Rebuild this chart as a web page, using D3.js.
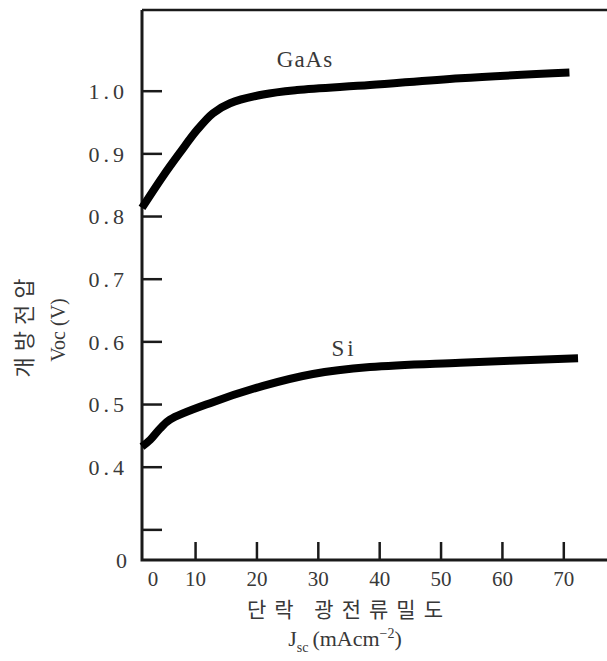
<!DOCTYPE html>
<html><head><meta charset="utf-8">
<script src="https://cdn.jsdelivr.net/npm/d3@7"></script>
<style>
html,body{margin:0;padding:0;background:#fff;}
svg{display:block;}
</style></head>
<body>
<svg id="chart" width="607" height="661"></svg>
<script>
// Data
const gaasJ = [1.35, 4.8, 7.6, 10.3, 12.9, 15.7, 21.1, 26.6, 38.5, 53.2, 71];
const gaasV = [0.813, 0.864, 0.902, 0.937, 0.964, 0.980, 0.994, 1.001, 1.009, 1.020, 1.029];
const siJ = [1.35, 2.7, 4.3, 5.9, 12.9, 21.1, 29.2, 38.5, 53.2, 72.4];
const siV = [0.432, 0.443, 0.461, 0.475, 0.503, 0.529, 0.548, 0.559, 0.566, 0.573];
const xTicks = [10, 20, 30, 40, 50, 60, 70];
const yTicks = [0.3, 0.4, 0.5, 0.6, 0.7, 0.8, 0.9, 1.0];
const yTickLabels = ["", "0.4", "0.5", "0.6", "0.7", "0.8", "0.9", "1.0"];
const seriesNames = ["GaAs", "Si"];

const svg = d3.select("#chart");
const W = 607, H = 661;
const axisX = 142, axisY = 560, topY = 10;

const x = d3.scaleLinear().domain([0, 70]).range([133.7, 563.3]);
const y = d3.scaleLinear().domain([0.4, 1.0]).range([466.7, 90.7]);

const ink = "#1a1a1a";
const txt = "#383838";
const serif = '"Liberation Serif","DejaVu Serif",serif';
const kr = '"Noto Sans CJK KR","Noto Sans",sans-serif';

// frame: top border
svg.append("line").attr("x1", axisX).attr("x2", W).attr("y1", topY).attr("y2", topY)
  .attr("stroke", ink).attr("stroke-width", 2.5);

// Y axis (ticks pointing inward)
const yAxis = d3.axisRight(y).tickValues(yTicks).tickSize(20).tickFormat("");
const gy = svg.append("g").attr("transform", `translate(${axisX},0)`).call(yAxis);
gy.select(".domain").remove();
gy.selectAll(".tick line").attr("stroke", ink).attr("stroke-width", 2.5);
gy.selectAll(".tick").append("text")
  .attr("x", -14).attr("dy", "0.35em").attr("text-anchor", "end")
  .attr("fill", txt).attr("font-size", 22).attr("letter-spacing", 4)
  .style("font-family", serif)
  .text((d, i) => yTickLabels[i]);

// X axis (ticks pointing inward / upward)
const xAxis = d3.axisTop(x).tickValues(xTicks).tickSize(18).tickFormat("");
const gx = svg.append("g").attr("transform", `translate(0,${axisY})`).call(xAxis);
gx.select(".domain").remove();
gx.selectAll(".tick line").attr("stroke", ink).attr("stroke-width", 2.5);
gx.selectAll(".tick").append("text")
  .attr("y", 26).attr("text-anchor", "middle")
  .attr("fill", txt).attr("font-size", 21)
  .style("font-family", serif)
  .text(d => d);

// axis lines
svg.append("path")
  .attr("d", `M${axisX},${topY} V${axisY} H${W}`)
  .attr("fill", "none").attr("stroke", ink).attr("stroke-width", 3);

// origin labels (broken axis)
svg.append("text").attr("x", 153).attr("y", 586).attr("text-anchor", "middle")
  .attr("fill", txt).attr("font-size", 21).style("font-family", serif).text("0");
svg.append("text").attr("x", 127).attr("y", 568).attr("text-anchor", "end")
  .attr("fill", txt).attr("font-size", 22).style("font-family", serif).text("0");

// curves
const line = d3.line().x(d => x(d[0])).y(d => y(d[1])).curve(d3.curveCatmullRom.alpha(0.5));
const gaas = gaasJ.map((j, i) => [j, gaasV[i]]);
const si = siJ.map((j, i) => [j, siV[i]]);
[gaas, si].forEach(s => {
  svg.append("path").attr("d", line(s)).attr("fill", "none")
    .attr("stroke", "#000").attr("stroke-width", 8).attr("stroke-linecap", "butt");
});

// series labels
svg.append("text").attr("x", 305).attr("y", 67).attr("text-anchor", "middle")
  .attr("fill", txt).attr("font-size", 23).attr("letter-spacing", 1).style("font-family", serif).text(seriesNames[0]);
svg.append("text").attr("x", 344).attr("y", 356).attr("text-anchor", "middle")
  .attr("fill", txt).attr("font-size", 23).attr("letter-spacing", 3).style("font-family", serif).text(seriesNames[1]);

// x title
svg.append("text").attr("x", 349).attr("y", 617).attr("text-anchor", "middle")
  .attr("fill", txt).attr("font-size", 21).attr("letter-spacing", 8)
  .style("font-family", kr).text("단락 광전류밀도");
const xt2 = svg.append("text").attr("x", 345).attr("y", 646).attr("text-anchor", "middle")
  .attr("fill", txt).attr("font-size", 22).style("font-family", serif);
xt2.append("tspan").text("J");
xt2.append("tspan").attr("font-size", 14).attr("dy", 6).text("sc");
xt2.append("tspan").attr("dy", -6).attr("dx", 4).text("(mAcm");
xt2.append("tspan").attr("font-size", 14).attr("dy", -8).text("−2");
xt2.append("tspan").attr("dy", 8).text(")");

// y title
svg.append("text").attr("transform", "translate(32,325) rotate(-90)")
  .attr("text-anchor", "middle").attr("fill", txt).attr("font-size", 22)
  .attr("letter-spacing", 6).style("font-family", kr).text("개방전압");
svg.append("text").attr("transform", "translate(65,330) rotate(-90)")
  .attr("text-anchor", "middle").attr("fill", txt).attr("font-size", 20)
  .style("font-family", serif).text("Voc (V)");
</script>
</body></html>
